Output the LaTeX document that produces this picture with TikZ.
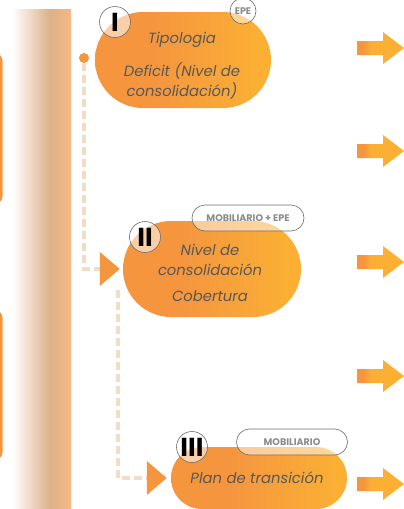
\documentclass[tikz,border=0pt]{standalone}
\usepackage{fontspec}
\setmainfont{Poppins}
\usetikzlibrary{arrows.meta}

\definecolor{boxorange}{HTML}{F5963F}
\definecolor{boxyellow}{HTML}{FBB034}
\definecolor{bartan}{HTML}{DDB08A}
\definecolor{barpeach}{HTML}{F5B985}
\definecolor{dashbeige}{HTML}{F2DCC6}
\definecolor{textgray}{HTML}{585858}
\definecolor{taggray}{HTML}{8C8C8C}
\definecolor{ringgray}{HTML}{6E6E6E}

\pgfdeclarehorizontalshading{boxfade}{100bp}{color(0bp)=(boxorange); color(42bp)=(boxorange); color(72bp)=(boxyellow); color(100bp)=(boxyellow)}
\pgfdeclarehorizontalshading{arrowfade}{100bp}{color(0bp)=(boxorange); color(32bp)=(boxorange); color(40bp)=(boxyellow); color(100bp)=(boxyellow)}
\pgfdeclarehorizontalshading{barfade}{100bp}{color(0bp)=(white); color(25bp)=(white); color(57bp)=(bartan); color(75bp)=(barpeach); color(100bp)=(barpeach)}

\tikzset{
  stadium/.style={shade, shading=boxfade, rounded corners=48pt, minimum width=177pt, minimum height=96pt, inner sep=0pt},
  boxtext/.style={font=\fontsize{14.8}{20}\selectfont\itshape, text=textgray, align=center},
  numeral/.style={circle, draw=ringgray, line width=0.6pt, fill=white, fill opacity=0.55, text opacity=1, minimum size=31pt, inner sep=0pt, font=\fontsize{26}{26}\selectfont\bfseries, text=black},
  tag/.style={rounded corners=13pt, draw=ringgray, line width=0.6pt, fill=white, fill opacity=0.5, text opacity=1, minimum height=26pt, inner sep=0pt, font=\fontsize{9.6}{10}\selectfont\bfseries, text=taggray},
  flowline/.style={dashbeige, line width=4pt, dash pattern=on 8pt off 4pt, -{Triangle[length=20pt,width=33pt,color=boxorange,fill=boxorange]}},
}

\begin{document}
\begin{tikzpicture}[x=1pt, y=-1pt]
\useasboundingbox (0,0) rectangle (404,509);
\fill[white] (0,0) rectangle (404,509);

% side bar
\fill[boxorange, rounded corners=8pt] (-30,53) rectangle (2.5,204);
\fill[boxorange, rounded corners=8pt] (-30,310) rectangle (2.5,460);
\shade[shading=barfade] (12,9) rectangle (71,509);

% step I
\node[stadium, minimum width=176pt] (tipo) at (183,60) {};
\node[boxtext] (tipotxt) at (182,66) {Tipologia\\[13pt]Deficit (Nivel de\\consolidación)};
\node[numeral] (one) at (115,22) {I};
\node[tag, circle, minimum size=26pt] (epe) at (243,11) {EPE};
\node[circle, fill=boxorange, minimum size=10pt, inner sep=0pt] (dot) at (84,58) {};

% step II
\node[stadium, minimum width=178pt] (nivel) at (212,269) {};
\node[boxtext] (niveltxt) at (210,273) {Nivel de\\consolidación\\[6pt]Cobertura};
\node[numeral] (two) at (145,237) {II};
\node[tag, minimum width=112pt] (mobepe) at (248,218) {MOBILIARIO + EPE};

% step III
\node[stadium, minimum width=176pt, minimum height=62pt, rounded corners=31pt] (plan) at (259,478) {};
\node[boxtext] (plantxt) at (257,478) {Plan de transición};
\node[numeral] (three) at (192,447) {III};
\node[tag, minimum width=111pt] (mob) at (292,442) {MOBILIARIO};

% dashed links
\coordinate (drop) at (118,290);
\draw[flowline, shorten >=3pt] (dot) |- (nivel.west);
\draw[flowline, shorten >=4pt] (drop) |- (plan.west);

% arrows on the right
\foreach \y in {48,151,262,376,484}
  \shade[shading=arrowfade] (357,\y-7) -- (383,\y-7) -- (383,\y-16) -- (404,\y) -- (383,\y+16) -- (383,\y+7) -- (357,\y+7) -- cycle;
\end{tikzpicture}
\end{document}
